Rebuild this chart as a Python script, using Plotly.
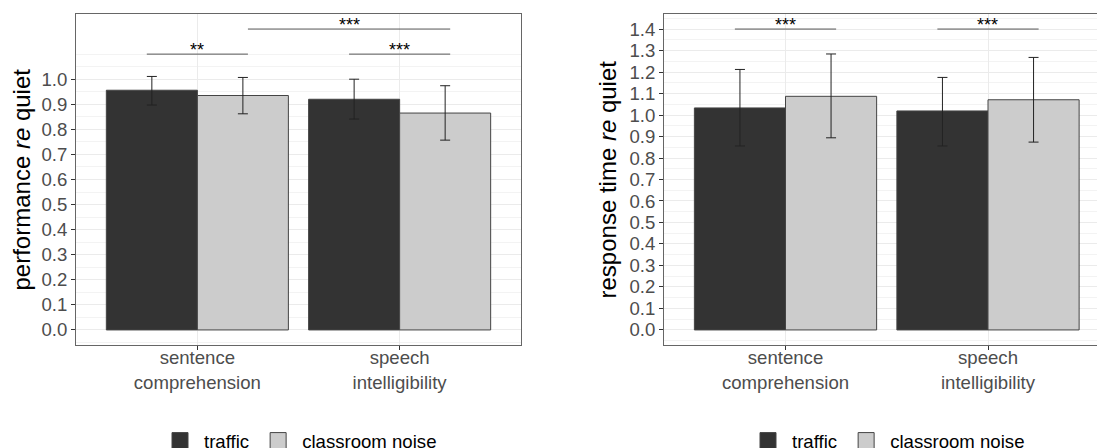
import plotly.graph_objects as go

# ---- data ----
categories = ["sentence<br>comprehension", "speech<br>intelligibility"]
cat_pos = [1, 2]
conditions = ["traffic", "classroom noise"]
fill_colors = ["#333333", "#CCCCCC"]

perf_traffic = [0.956, 0.920]
perf_traffic_hi = [1.011, 1.000]
perf_traffic_lo = [0.897, 0.841]
perf_class = [0.935, 0.865]
perf_class_hi = [1.007, 0.974]
perf_class_lo = [0.862, 0.757]

rt_traffic = [1.033, 1.019]
rt_traffic_hi = [1.212, 1.175]
rt_traffic_lo = [0.856, 0.856]
rt_class = [1.087, 1.071]
rt_class_hi = [1.284, 1.268]
rt_class_lo = [0.894, 0.874]

# significance comparisons: (x start, x end, y, label)
perf_sig = [(0.75, 1.25, 1.1, "**"), (1.25, 2.25, 1.2, "***"), (1.75, 2.25, 1.1, "***")]
rt_sig = [(0.75, 1.25, 1.4, "***"), (1.75, 2.25, 1.4, "***")]

perf_ticks = [round(i * 0.1, 1) for i in range(11)]
rt_ticks = [round(i * 0.1, 1) for i in range(15)]

FONT = "Liberation Sans, Arial, sans-serif"
W, H = 1097, 448

fig = go.Figure()

def add_panel(vals_list, hi_list, lo_list, xa, ya, sig, legend):
    for name, col, vals, hi, lo in zip(conditions, fill_colors, vals_list, hi_list, lo_list):
        fig.add_trace(go.Bar(
            x=cat_pos, y=vals, name=name, xaxis=xa, yaxis=ya,
            offsetgroup=name, showlegend=False,
            marker=dict(color=col, line=dict(color="#444444", width=1)),
            error_y=dict(type="data", symmetric=False,
                         array=[h - v for h, v in zip(hi, vals)],
                         arrayminus=[v - l for v, l in zip(vals, lo)],
                         color="#222222", thickness=1, width=5),
        ))
    for x0, x1, y, lab in sig:
        fig.add_trace(go.Scatter(x=[x0, x1], y=[y, y], mode="lines", xaxis=xa, yaxis=ya,
                                 line=dict(color="#555555", width=1), showlegend=False,
                                 hoverinfo="skip"))
        fig.add_annotation(x=(x0 + x1) / 2, y=y, xref=xa, yref=ya, text=lab,
                           showarrow=False, yanchor="bottom", yshift=-8,
                           font=dict(family=FONT, size=18, color="black"))
    for name, col in zip(conditions, fill_colors):
        fig.add_trace(go.Scatter(x=[None], y=[None], mode="markers", name=name,
                                 xaxis=xa, yaxis=ya, legend=legend,
                                 marker=dict(symbol="square", size=16, color=col,
                                             line=dict(color="#444444", width=1))))

add_panel([perf_traffic, perf_class], [perf_traffic_hi, perf_class_hi],
          [perf_traffic_lo, perf_class_lo], "x", "y", perf_sig, "legend")
add_panel([rt_traffic, rt_class], [rt_traffic_hi, rt_class_hi],
          [rt_traffic_lo, rt_class_lo], "x2", "y2", rt_sig, "legend2")

y_dom = [(H - 345) / H, (H - 14) / H]
left_dom = [76 / W, 521 / W]
unit = 202.5
right_left = 664
right_dom = [right_left / W, 1.0]
right_range = [0.4, 0.4 + (W - right_left) / unit]

tickfont = dict(family=FONT, size=18.6, color="#4D4D4D")
common_x = dict(tickvals=cat_pos, ticktext=categories, tickfont=tickfont,
                ticks="outside", ticklen=4, tickcolor="#333333", automargin=False,
                ticklabelstandoff=-8,
                showgrid=True, gridcolor="#EBEBEB", gridwidth=1, zeroline=False,
                showline=True, linecolor="#666666", linewidth=1, mirror=True)
common_y = dict(tickfont=tickfont, ticks="outside", ticklen=4, tickcolor="#333333",
                showgrid=True, gridcolor="#EBEBEB", zeroline=False, automargin=False,
                showline=True, linecolor="#666666")
leg = dict(orientation="h", xanchor="left", yref="container", y=7 / H, yanchor="middle",
           font=dict(family=FONT, size=18.6, color="black"), bgcolor="rgba(0,0,0,0)",
           itemclick=False, itemwidth=38, tracegroupgap=0)

fig.update_layout(
    width=W, height=H, margin=dict(l=0, r=0, t=0, b=0, autoexpand=False),
    paper_bgcolor="white", plot_bgcolor="white",
    barmode="group", bargap=0.1, bargroupgap=0,
    font=dict(family=FONT),
    xaxis=dict(domain=left_dom, range=[0.4, 2.6], anchor="y", **common_x),
    xaxis2=dict(domain=right_dom, range=right_range, anchor="y2", **common_x),
    yaxis=dict(domain=y_dom, range=[-0.06, 1.26], anchor="x", mirror=True,
               tickvals=perf_ticks, ticktext=[f"{t:.1f}" for t in perf_ticks],
               minor=dict(tickvals=[round(-0.05 + 0.1 * i, 2) for i in range(12)] + [1.1],
                          showgrid=True, gridcolor="#F3F3F3", ticks=""),
               **common_y),
    yaxis2=dict(domain=y_dom, range=[-0.07, 1.47], anchor="x2", mirror=False,
                tickvals=rt_ticks, ticktext=[f"{t:.1f}" for t in rt_ticks],
                minor=dict(tickvals=[round(-0.05 + 0.1 * i, 2) for i in range(16)],
                           showgrid=True, gridcolor="#F3F3F3", ticks=""),
                **common_y),
    legend=dict(x=156 / W, **leg),
    legend2=dict(x=744 / W, **leg),
)

# y-axis titles
fig.add_annotation(xref="paper", yref="paper", x=21 / W, y=(H - 179.5) / H,
                   text="performance <i>re</i> quiet", textangle=-90, showarrow=False,
                   xanchor="center", yanchor="middle",
                   font=dict(family=FONT, size=24, color="black"))
fig.add_annotation(xref="paper", yref="paper", x=607 / W, y=(H - 179.5) / H,
                   text="response time <i>re</i> quiet", textangle=-90, showarrow=False,
                   xanchor="center", yanchor="middle",
                   font=dict(family=FONT, size=24, color="black"))

fig.write_html("out.html")
